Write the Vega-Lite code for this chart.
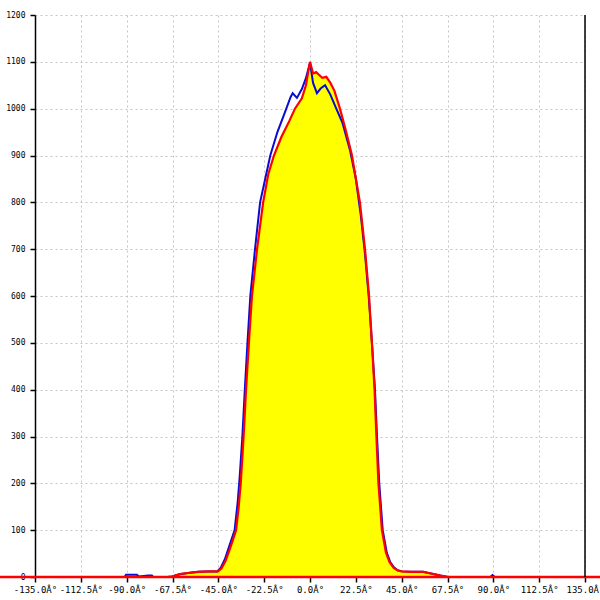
{
  "$schema": "https://vega.github.io/schema/vega-lite/v6.json",
  "width": 550,
  "height": 562,
  "autosize": {"type": "none"},
  "padding": {"left": 35, "top": 15, "right": 15, "bottom": 23},
  "background": "white",
  "config": {
    "view": {"stroke": null},
    "axis": {
      "title": null,
      "labelColor": "black",
      "labelFont": "DejaVu Sans Mono",
      "tickColor": "black",
      "tickWidth": 1.5,
      "tickSize": 5,
      "gridColor": "#c4c4c4",
      "gridDash": [2, 3],
      "gridWidth": 1,
      "labelOverlap": false,
      "labelFlush": false
    }
  },
  "datasets": {
    "red": [
      {"angle": -135, "value": 0},
      {"angle": -70, "value": 0},
      {"angle": -67.7, "value": 1},
      {"angle": -64, "value": 6},
      {"angle": -59, "value": 9},
      {"angle": -55, "value": 11},
      {"angle": -50, "value": 12},
      {"angle": -45.2, "value": 12},
      {"angle": -43.5, "value": 18},
      {"angle": -41.5, "value": 34},
      {"angle": -39.5, "value": 58},
      {"angle": -37.8, "value": 80},
      {"angle": -36.3, "value": 100},
      {"angle": -35, "value": 150},
      {"angle": -34, "value": 200},
      {"angle": -32.6, "value": 300},
      {"angle": -31.4, "value": 400},
      {"angle": -30, "value": 500},
      {"angle": -28.5, "value": 600},
      {"angle": -26, "value": 700},
      {"angle": -23, "value": 800},
      {"angle": -20.5, "value": 860},
      {"angle": -17.7, "value": 900},
      {"angle": -14, "value": 940},
      {"angle": -10, "value": 975},
      {"angle": -7.4, "value": 1000},
      {"angle": -4, "value": 1022},
      {"angle": -2, "value": 1050},
      {"angle": 0, "value": 1100},
      {"angle": 1.5, "value": 1075},
      {"angle": 3, "value": 1078},
      {"angle": 4.5, "value": 1072},
      {"angle": 6, "value": 1066},
      {"angle": 8, "value": 1068},
      {"angle": 10, "value": 1055},
      {"angle": 12, "value": 1038},
      {"angle": 14.7, "value": 1000},
      {"angle": 17.5, "value": 955},
      {"angle": 20.6, "value": 900},
      {"angle": 24.5, "value": 800},
      {"angle": 27, "value": 700},
      {"angle": 29, "value": 600},
      {"angle": 30.4, "value": 500},
      {"angle": 31.7, "value": 400},
      {"angle": 32.6, "value": 300},
      {"angle": 33.6, "value": 200},
      {"angle": 35.3, "value": 100},
      {"angle": 37.3, "value": 52},
      {"angle": 39, "value": 32},
      {"angle": 41, "value": 20},
      {"angle": 43, "value": 14},
      {"angle": 45, "value": 12},
      {"angle": 50, "value": 11},
      {"angle": 55.5, "value": 11},
      {"angle": 60, "value": 7},
      {"angle": 64, "value": 3},
      {"angle": 67.7, "value": 0},
      {"angle": 135, "value": 0}
    ],
    "blue": [
      {"angle": -135, "value": 0},
      {"angle": -91, "value": 0},
      {"angle": -90.3, "value": 5},
      {"angle": -85, "value": 5},
      {"angle": -84, "value": 1},
      {"angle": -79.5, "value": 3},
      {"angle": -77.6, "value": 3},
      {"angle": -77, "value": 0},
      {"angle": -70, "value": 0},
      {"angle": -67.7, "value": 1},
      {"angle": -64, "value": 6},
      {"angle": -59, "value": 9},
      {"angle": -55, "value": 11},
      {"angle": -50, "value": 12},
      {"angle": -45.5, "value": 12},
      {"angle": -43.8, "value": 20},
      {"angle": -41.8, "value": 38},
      {"angle": -39.8, "value": 64},
      {"angle": -37, "value": 100},
      {"angle": -35.5, "value": 160},
      {"angle": -34.5, "value": 215},
      {"angle": -33.2, "value": 300},
      {"angle": -32, "value": 400},
      {"angle": -30.7, "value": 500},
      {"angle": -29.3, "value": 600},
      {"angle": -27, "value": 700},
      {"angle": -24.5, "value": 800},
      {"angle": -19.5, "value": 900},
      {"angle": -16, "value": 950},
      {"angle": -12.5, "value": 990},
      {"angle": -9.5, "value": 1025},
      {"angle": -8.5, "value": 1033},
      {"angle": -6.4, "value": 1023},
      {"angle": -4, "value": 1042},
      {"angle": -2, "value": 1065},
      {"angle": 0, "value": 1098},
      {"angle": 1.5, "value": 1055},
      {"angle": 3.4, "value": 1033},
      {"angle": 5.2, "value": 1043},
      {"angle": 7.4, "value": 1050},
      {"angle": 10, "value": 1030},
      {"angle": 12.8, "value": 1001},
      {"angle": 16, "value": 969},
      {"angle": 19.6, "value": 912},
      {"angle": 22.5, "value": 850},
      {"angle": 25, "value": 770},
      {"angle": 27, "value": 690},
      {"angle": 28.8, "value": 600},
      {"angle": 30.4, "value": 500},
      {"angle": 31.9, "value": 400},
      {"angle": 32.9, "value": 300},
      {"angle": 34, "value": 200},
      {"angle": 35.7, "value": 100},
      {"angle": 37.7, "value": 52},
      {"angle": 39.4, "value": 32},
      {"angle": 41.3, "value": 20},
      {"angle": 43.2, "value": 14},
      {"angle": 45, "value": 12},
      {"angle": 50, "value": 11},
      {"angle": 55.5, "value": 11},
      {"angle": 60, "value": 7},
      {"angle": 64, "value": 3},
      {"angle": 67.7, "value": 0},
      {"angle": 88.5, "value": 0},
      {"angle": 89.6, "value": 4},
      {"angle": 90.7, "value": 0},
      {"angle": 135, "value": 0}
    ]
  },
  "layer": [
    {
      "data": {"name": "red"},
      "mark": {"type": "area", "color": "#ffff00", "opacity": 1},
      "encoding": {
        "x": {
          "field": "angle",
          "type": "quantitative",
          "scale": {"domain": [-135, 135], "nice": false, "zero": false},
          "axis": {
            "orient": "bottom",
            "values": [-135, -112.5, -90, -67.5, -45, -22.5, 0, 22.5, 45, 67.5, 90, 112.5, 135],
            "domain": false,
            "grid": true,
            "labelFontSize": 9,
            "labelPadding": 3,
            "labelExpr": "(datum.value < 0 ? '-' : '') + format(abs(datum.value), '.1f') + 'Â°'"
          }
        },
        "y": {
          "field": "value",
          "type": "quantitative",
          "scale": {"domain": [0, 1200], "nice": false},
          "axis": {
            "values": [0, 100, 200, 300, 400, 500, 600, 700, 800, 900, 1000, 1100, 1200],
            "format": "d",
            "domain": true,
            "domainColor": "black",
            "domainWidth": 1.5,
            "grid": true,
            "labelFontSize": 8,
            "labelPadding": 5
          }
        }
      }
    },
    {
      "data": {"name": "blue"},
      "mark": {"type": "line", "color": "#0a0ad2", "strokeWidth": 2},
      "encoding": {
        "x": {"field": "angle", "type": "quantitative"},
        "y": {"field": "value", "type": "quantitative"}
      }
    },
    {
      "data": {"name": "red"},
      "mark": {"type": "line", "color": "#ff0000", "strokeWidth": 2.2},
      "encoding": {
        "x": {"field": "angle", "type": "quantitative"},
        "y": {"field": "value", "type": "quantitative"}
      }
    },
    {
      "data": {"values": [{"a": -160, "b": 160, "v": 0}]},
      "mark": {"type": "rule", "color": "#ff0000", "strokeWidth": 2.5, "clip": false},
      "encoding": {
        "x": {"field": "a", "type": "quantitative"},
        "x2": {"field": "b"},
        "y": {"field": "v", "type": "quantitative"}
      }
    },
    {
      "data": {"values": [{"a": 135, "v0": 0, "v1": 1200}]},
      "mark": {"type": "rule", "color": "black", "strokeWidth": 1.5},
      "encoding": {
        "x": {"field": "a", "type": "quantitative"},
        "y": {"field": "v0", "type": "quantitative"},
        "y2": {"field": "v1"}
      }
    }
  ]
}
